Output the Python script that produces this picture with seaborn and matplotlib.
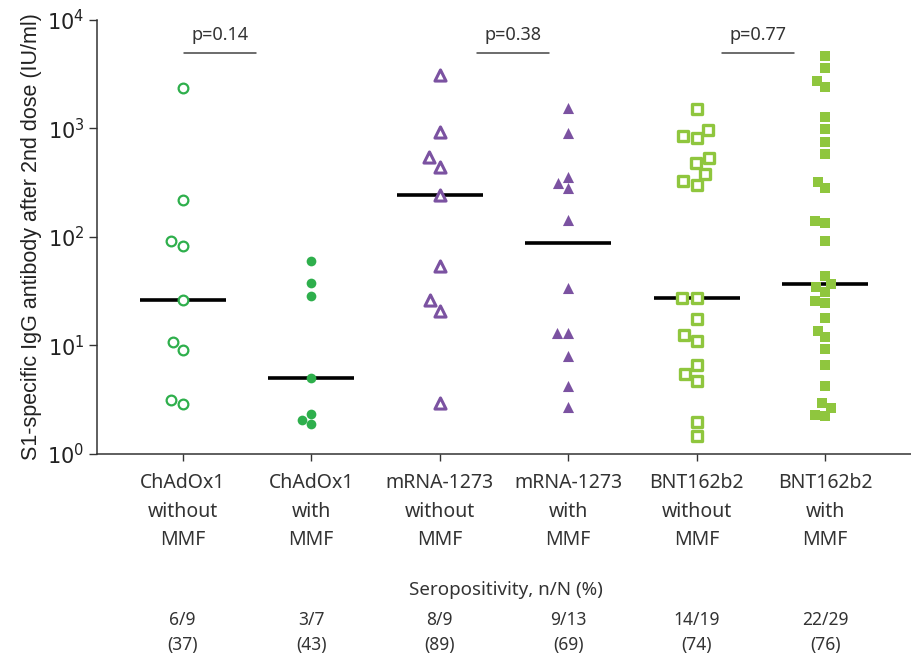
import numpy as np
import pandas as pd
import seaborn as sns
import matplotlib.pyplot as plt
from matplotlib import transforms

groups = ['ChAdOx1\nwithout\nMMF', 'ChAdOx1\nwith\nMMF',
          'mRNA-1273\nwithout\nMMF', 'mRNA-1273\nwith\nMMF',
          'BNT162b2\nwithout\nMMF', 'BNT162b2\nwith\nMMF']

chadox_without = [2345, 218, 92.6, 83.4, 26.4, 10.8, 9.12, 3.12, 2.90]
chadox_with = [60.6, 37.8, 28.8, 5.01, 2.32, 2.06, 1.87]
mrna_without = [3110, 935, 550, 445, 244, 54.2, 26.4, 21.0, 2.95]
mrna_with = [1535, 903, 360, 317, 281, 144, 33.8, 13.0, 13.0, 8.04, 4.19, 2.71]
bnt_without = [1503, 968, 859, 812, 538, 478, 381, 329, 300, 27.3, 27.3,
               17.5, 12.6, 10.9, 6.54, 5.48, 4.66, 1.97, 1.45]
bnt_with = [4653, 3605, 2754, 2425, 1285, 989, 755, 582, 322, 281, 141, 134,
            92, 43.8, 37.0, 34.5, 31.4, 25.9, 24.6, 18.1, 13.7, 11.9, 9.27,
            6.54, 4.19, 2.95, 2.65, 2.27, 2.22]

values = [chadox_without, chadox_with, mrna_without, mrna_with, bnt_without, bnt_with]
colors = ['#2eaf4c', '#2eaf4c', '#7b52a1', '#7b52a1', '#8fc63e', '#8fc63e']
markers = ['o', 'o', '^', '^', 's', 's']
filled = [False, True, False, True, False, True]
sizes = [7, 7, 8, 8, 7.5, 7]
edge_w = [1.6, 0, 2.2, 0, 2.4, 0]

seropos_n = ['6/9', '3/7', '8/9', '9/13', '14/19', '22/29']
seropos_pct = ['(37)', '(43)', '(89)', '(69)', '(74)', '(76)']

p_labels = ['p=0.14', 'p=0.38', 'p=0.77']
p_x0 = [0.01, 2.29, 4.2]
p_x1 = [0.57, 2.85, 4.76]

df = pd.concat([pd.DataFrame({'group': g, 'value': v}) for g, v in zip(groups, values)],
               ignore_index=True)

sns.set_style('ticks')
plt.rcParams['font.family'] = ['Noto Sans', 'DejaVu Sans']

fig = plt.figure(figsize=(9.11, 6.57), dpi=100)
ax = fig.add_axes([0.1065, 0.309, 0.8935, 0.6606])
ax.set_yscale('log')

for g, c, m, f, sz, lw in zip(groups, colors, markers, filled, sizes, edge_w):
    n_before = len(ax.collections)
    sns.swarmplot(data=df[df.group == g], x='group', y='value', order=groups,
                  color=c, marker=m, size=sz, ax=ax, zorder=3,
                  linewidth=lw, edgecolor=c)
    if not f:
        # hollow markers: white face, coloured edge
        for coll in ax.collections[n_before:]:
            if len(coll.get_offsets()):
                coll.set_array(None)
                coll.set_facecolor('white')
                coll.set_edgecolor(c)
                coll.set_linewidth(lw)

# median lines
for i, g in enumerate(groups):
    med = np.median(df.loc[df.group == g, 'value'])
    ax.hlines(med, i - 0.335, i + 0.335, color='black', lw=2.6, zorder=2)

# p-value brackets
for lab, x0, x1 in zip(p_labels, p_x0, p_x1):
    ax.plot([x0, x1], [5000, 5000], color='#444444', lw=1.1, clip_on=False)
    ax.text((x0 + x1) / 2, 6000, lab, ha='center', va='bottom', fontsize=13,
            color='#333333')

ax.set_xlim(-0.667, 5.667)
ax.set_ylim(1, 1e4)
ax.set_yticks([1, 10, 100, 1000, 10000])
ax.set_yticklabels(['$10^{%d}$' % k for k in range(5)])
ax.yaxis.set_minor_locator(plt.NullLocator())
for t in ax.get_yticklabels():
    t.set_family('Liberation Sans')
    t.set_fontsize(15)
ax.tick_params(axis='y', length=6, width=1, color='#333333', pad=3,
               labelcolor='#222222')
ax.tick_params(axis='x', length=5, width=1, color='#333333', pad=9,
               labelsize=14, labelcolor='#333333')
for t in ax.get_xticklabels():
    t.set_linespacing(1.55)
ax.set_xlabel('')
ax.set_ylabel('S1-specific IgG antibody after 2nd dose (IU/ml)',
              family='Liberation Sans', fontsize=15.5, color='#222222', labelpad=4)
sns.despine(ax=ax)
for s in ['left', 'bottom']:
    ax.spines[s].set_color('#333333')
    ax.spines[s].set_linewidth(1.1)

# seropositivity rows
fig.text(0.555, 0.102, 'Seropositivity, n/N (%)', ha='center', va='center',
         fontsize=13.5, color='#333333')
trans = transforms.blended_transform_factory(ax.transData, fig.transFigure)
for i, (n, p) in enumerate(zip(seropos_n, seropos_pct)):
    ax.text(i, 0.057, n, transform=trans, ha='center', va='center', fontsize=12.5,
            color='#333333')
    ax.text(i, 0.019, p, transform=trans, ha='center', va='center', fontsize=12.5,
            color='#333333')

plt.savefig('out.png', dpi=100)
